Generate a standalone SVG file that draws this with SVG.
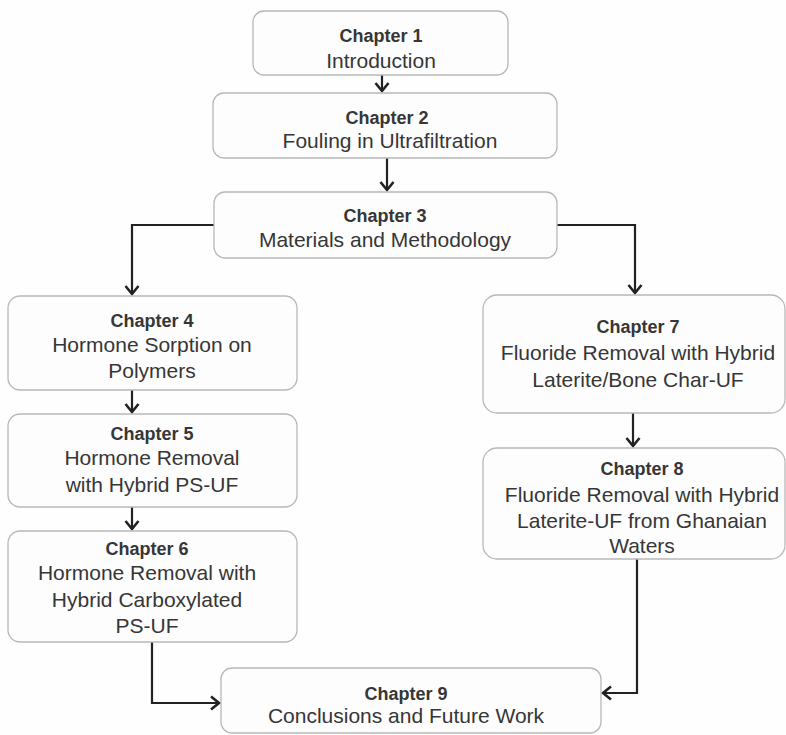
<svg xmlns="http://www.w3.org/2000/svg" width="786" height="735" viewBox="0 0 786 735">
<defs>
<marker id="arr" markerWidth="14" markerHeight="16" refX="10" refY="8" orient="auto" markerUnits="userSpaceOnUse">
<path d="M2,1.5 L10,8 L2,14.5" fill="none" stroke="#222" stroke-width="2.6" stroke-linejoin="miter"/>
</marker>
<style>
.box{fill:#fdfdfd;stroke:#b8b8b8;stroke-width:1.3}
.t{font-family:"Liberation Sans",Arial,sans-serif;font-size:21px;fill:#363636;text-anchor:middle}
.h{font-family:"Liberation Sans",Arial,sans-serif;font-size:18px;font-weight:bold;fill:#363636;text-anchor:middle}
.c{fill:none;stroke:#222;stroke-width:2.2}
</style>
</defs>
<rect width="786" height="735" fill="#fefefe"/>
<g id="connectors">
<path class="c" d="M382,75 V91" marker-end="url(#arr)"/>
<path class="c" d="M387,158 V190" marker-end="url(#arr)"/>
<path class="c" d="M214,225 H132 V294" marker-end="url(#arr)"/>
<path class="c" d="M557,225 H635 V293" marker-end="url(#arr)"/>
<path class="c" d="M132,390 V412" marker-end="url(#arr)"/>
<path class="c" d="M132,507 V529" marker-end="url(#arr)"/>
<path class="c" d="M633,413 V446" marker-end="url(#arr)"/>
<path class="c" d="M152,642 V703 H219" marker-end="url(#arr)"/>
<path class="c" d="M637,559 V693 H603" marker-end="url(#arr)"/>
</g>
<g id="ch1">
<rect class="box" x="253" y="11" width="255" height="64" rx="11"/>
<text class="h" x="381" y="42">Chapter 1</text>
<text class="t" x="381" y="68">Introduction</text>
</g>
<g id="ch2">
<rect class="box" x="213" y="93" width="344" height="65" rx="11"/>
<text class="h" x="387" y="124">Chapter 2</text>
<text class="t" x="390" y="148">Fouling in Ultrafiltration</text>
</g>
<g id="ch3">
<rect class="box" x="214" y="192" width="343" height="66" rx="11"/>
<text class="h" x="385" y="222">Chapter 3</text>
<text class="t" x="385" y="247">Materials and Methodology</text>
</g>
<g id="ch4">
<rect class="box" x="8" y="296" width="289" height="94" rx="12"/>
<text class="h" x="152" y="327">Chapter 4</text>
<text class="t" x="152" y="352">Hormone Sorption on</text>
<text class="t" x="152" y="378">Polymers</text>
</g>
<g id="ch5">
<rect class="box" x="8" y="414" width="289" height="93" rx="12"/>
<text class="h" x="152" y="440">Chapter 5</text>
<text class="t" x="152" y="465">Hormone Removal</text>
<text class="t" x="152" y="492">with Hybrid PS-UF</text>
</g>
<g id="ch6">
<rect class="box" x="8" y="531" width="289" height="111" rx="12"/>
<text class="h" x="147" y="555">Chapter 6</text>
<text class="t" x="147" y="580">Hormone Removal with</text>
<text class="t" x="147" y="607">Hybrid Carboxylated</text>
<text class="t" x="147" y="633">PS-UF</text>
</g>
<g id="ch7">
<rect class="box" x="483" y="295" width="302" height="118" rx="14"/>
<text class="h" x="638" y="333">Chapter 7</text>
<text class="t" x="638" y="360">Fluoride Removal with Hybrid</text>
<text class="t" x="638" y="387">Laterite/Bone Char-UF</text>
</g>
<g id="ch8">
<rect class="box" x="483" y="448" width="302" height="111" rx="14"/>
<text class="h" x="642" y="475">Chapter 8</text>
<text class="t" x="642" y="502">Fluoride Removal with Hybrid</text>
<text class="t" x="642" y="528">Laterite-UF from Ghanaian</text>
<text class="t" x="642" y="553">Waters</text>
</g>
<g id="ch9">
<rect class="box" x="221" y="668" width="380" height="65" rx="11"/>
<text class="h" x="406" y="700">Chapter 9</text>
<text class="t" x="406" y="723">Conclusions and Future Work</text>
</g>
</svg>
